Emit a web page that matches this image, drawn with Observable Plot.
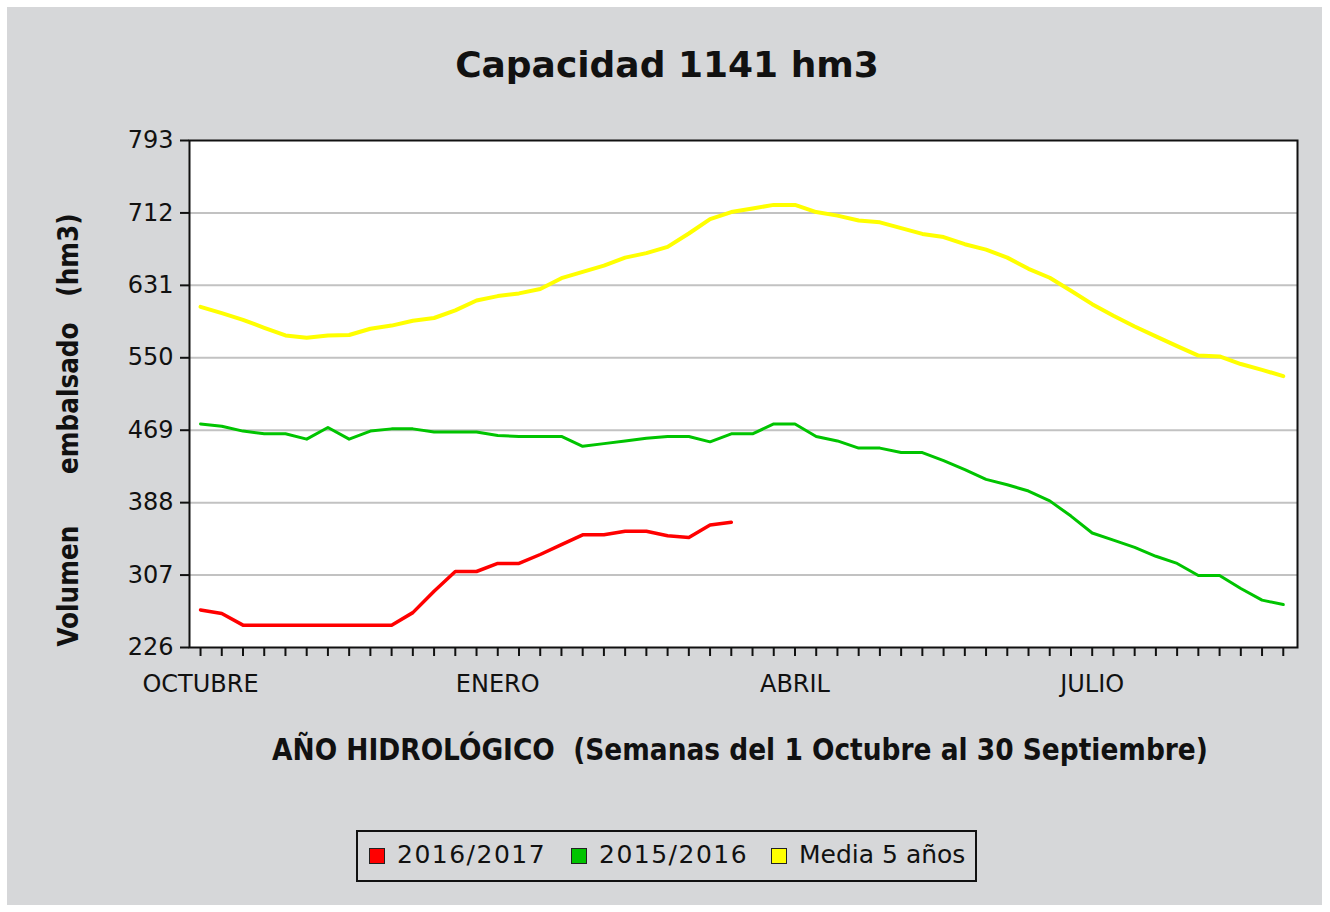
<!DOCTYPE html>
<html>
<head>
<meta charset="utf-8">
<script src="https://cdn.jsdelivr.net/npm/d3@7"></script>
<script src="https://cdn.jsdelivr.net/npm/@observablehq/plot@0.6"></script>
<style>
  html, body { margin: 0; padding: 0; background: #ffffff; }
  #page { position: relative; width: 1330px; height: 912px; overflow: hidden; background: #ffffff; }
  #panel { position: absolute; left: 7px; top: 7px; width: 1315px; height: 898px; background: #d6d7d9; }
  #chart { position: absolute; left: 0; top: 0; }
  .title { position: absolute; left: 0; top: 47px; width: 1334px; text-align: center;
    font-family: "DejaVu Sans", sans-serif; font-weight: bold; font-size: 36px; line-height: 36px; color: #111; }
  .xlabel { position: absolute; left: 240px; top: 735px; width: 1000px; text-align: center;
    font-family: "DejaVu Sans Condensed", "DejaVu Sans", sans-serif; font-stretch: condensed;
    font-weight: bold; font-size: 29.4px; line-height: 30px; color: #111; white-space: pre; }
  .ylabel { position: absolute; left: 68px; top: 430px; width: 600px; height: 32px; margin-left: -300px; margin-top: -16px;
    transform: rotate(-90deg); text-align: center;
    font-family: "DejaVu Sans Condensed", "DejaVu Sans", sans-serif; font-stretch: condensed;
    font-weight: bold; font-size: 27.5px; line-height: 32px; color: #111; white-space: pre; }
  .legend { position: absolute; left: 356px; top: 830px; width: 617px; height: 48px; border: 2px solid #111; }
  .sw { position: absolute; top: 16px; width: 14px; height: 14px; border: 1px solid #222; }
  .lt { position: absolute; top: 7px; font-family: "DejaVu Sans", sans-serif; font-size: 25px; line-height: 32px; color: #111; white-space: pre; }
</style>
</head>
<body>
<div id="page">
  <div id="panel"></div>
  <div id="chart"></div>
  <div class="title">Capacidad 1141 hm3</div>
  <div class="ylabel">Volumen      embalsado   (hm3)</div>
  <div class="xlabel">AÑO HIDROLÓGICO  (Semanas del 1 Octubre al 30 Septiembre)</div>
  <div class="legend" id="legend"></div>
</div>
<script>
// ---- data ----
const weeks = d3.range(52);
const yTicks = [226, 307, 388, 469, 550, 631, 712, 793];
const monthWeeks = [0, 14, 28, 42];
const monthLabels = ["OCTUBRE", "ENERO", "ABRIL", "JULIO"];
const seriesNames = ["2016/2017", "2015/2016", "Media 5 años"];
const seriesColors = ["#ff0000", "#00c400", "#ffff00"];

const v2016 = [268, 264, 251, 251, 251, 251, 251, 251, 251, 251, 265, 289, 311, 311, 320, 320,
  330, 341, 352, 352, 356, 356, 351, 349, 363, 366];

const v2015 = [476, 473.5, 468, 465, 465, 459, 472, 459, 468, 470.5, 470.5, 467, 467, 467, 463, 462,
  462, 462, 451, 454, 457, 460, 462, 462, 456, 465, 465, 476, 476, 462, 457, 449, 449, 444, 444,
  435, 425, 414, 408, 401, 390, 373, 354, 346, 338, 328, 320, 306.5, 306.5, 292, 279, 274];

const vMedia = [607, 600, 592.5, 583.5, 575, 572.5, 575, 575.5, 582.5, 586, 591.5, 594.5, 603, 614,
  619, 622, 627, 639, 646, 653, 662, 667, 674, 689, 705, 713, 717, 721, 721, 713, 709, 703.5, 701.5,
  695, 688.5, 685, 677, 671, 662, 649.5, 639.5, 625, 610, 597, 585, 574, 563, 552.5, 551.5, 543,
  536.5, 529.5];

// ---- chart ----
const chart = Plot.plot({
  width: 1330,
  height: 912,
  marginLeft: 189,
  marginRight: 33,
  marginTop: 140,
  marginBottom: 265,
  style: { background: "transparent", fontFamily: "DejaVu Sans, sans-serif", fontSize: "24px", color: "#111" },
  x: { domain: [-0.52, 51.67] },
  y: { domain: [226, 793] },
  marks: [
    Plot.frame({ fill: "white" }),
    Plot.gridY(yTicks.slice(1, -1), { stroke: "#c2c2c2", strokeOpacity: 1, strokeWidth: 2 }),
    Plot.line(vMedia, { x: weeks.slice(0, vMedia.length), y: vMedia, stroke: seriesColors[2], strokeWidth: 4 }),
    Plot.line(v2015, { x: weeks.slice(0, v2015.length), y: v2015, stroke: seriesColors[1], strokeWidth: 3 }),
    Plot.line(v2016, { x: weeks.slice(0, v2016.length), y: v2016, stroke: seriesColors[0], strokeWidth: 3.5 }),
    Plot.frame({ stroke: "#111", strokeWidth: 2 }),
    Plot.axisY(yTicks, { tickSize: 9, tickPadding: 7, strokeWidth: 2, label: null, tickFormat: d => String(d) }),
    Plot.axisX(weeks, { tickSize: 9, strokeWidth: 2, label: null, tickFormat: () => "" }),
    Plot.axisX(monthWeeks, { tickSize: 0, tickPadding: 27, label: null,
      tickFormat: d => monthLabels[monthWeeks.indexOf(d)] })
  ]
});
document.getElementById("chart").appendChild(chart);

// ---- legend ----
const legend = document.getElementById("legend");
const swX = [11, 213, 413];
const txX = [39, 241, 441];
seriesNames.forEach((name, i) => {
  const sw = document.createElement("div");
  sw.className = "sw";
  sw.style.left = swX[i] + "px";
  sw.style.background = seriesColors[i];
  legend.appendChild(sw);
  const t = document.createElement("div");
  t.className = "lt";
  t.style.left = txX[i] + "px";
  if (i < 2) t.style.letterSpacing = "1.5px";
  t.textContent = name;
  legend.appendChild(t);
});
</script>
</body>
</html>
